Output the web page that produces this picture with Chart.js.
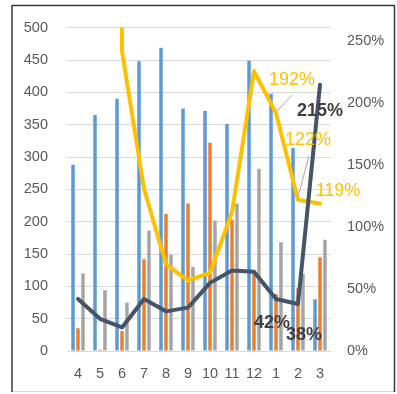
<!DOCTYPE html>
<html>
<head>
<meta charset="utf-8">
<script src="https://cdn.jsdelivr.net/npm/chart.js@4/dist/chart.umd.min.js"></script>
<style>
  html, body { margin: 0; padding: 0; background: #fff; }
  canvas { display: block; }
</style>
</head>
<body>
<canvas id="c" width="397" height="394"></canvas>
<script>
// Months (April to March)
const months = ['4', '5', '6', '7', '8', '9', '10', '11', '12', '1', '2', '3'];

// Bar series (left axis)
const seriesBlue   = [288, 365, 390, 448, 469, 375, 371, 351, 449, 398, 314, 80];
const seriesOrange = [35, 2, 31, 142, 212, 228, 322, 203, 125, 88, 97, 145];
const seriesGray   = [120, 94, 75, 186, 149, 130, 202, 228, 282, 168, 119, 172];

// Ratio lines (right axis, 1 = 100%)
const ratioYellow = [3.43, 47, 2.42, 1.31, 0.70, 0.57, 0.63, 1.12, 2.26, 1.92, 1.22, 1.19];
const ratioDark   = [0.42, 0.26, 0.19, 0.42, 0.32, 0.35, 0.55, 0.65, 0.64, 0.42, 0.38, 2.15];

// Left and right axis ticks
const leftTicks  = [0, 50, 100, 150, 200, 250, 300, 350, 400, 450, 500];
const rightTicks = [0, 0.5, 1, 1.5, 2, 2.5];

const FONT = '"Liberation Sans", Arial, sans-serif';
const TICK_COLOR = '#595959';

const pct = v => Math.round(v * 100) + '%';

// Data labels for the last three months of each line, with placement offsets
const labelSpecs = [
  { ds: 3, i: 9,  dx: 16,  dy: -33, color: '#FFC000', bold: false, leader: [16, -18, 1, -2] },
  { ds: 3, i: 10, dx: 10,  dy: -60, color: '#FFC000', bold: false, leader: [11, -44, 0, -3] },
  { ds: 3, i: 11, dx: 18,  dy: -13, color: '#FFC000', bold: false },
  { ds: 4, i: 9,  dx: -4,  dy: 24,  color: '#404040', bold: true },
  { ds: 4, i: 10, dx: 6,   dy: 31,  color: '#404040', bold: true },
  { ds: 4, i: 11, dx: 0,   dy: 26,  color: '#404040', bold: true }
];

const labelPlugin = {
  id: 'pointLabels',
  afterDatasetsDraw(chart) {
    const ctx = chart.ctx;
    ctx.save();
    labelSpecs.forEach(s => {
      const pt = chart.getDatasetMeta(s.ds).data[s.i];
      const v = chart.data.datasets[s.ds].data[s.i];
      if (s.leader) {
        ctx.strokeStyle = '#A6A6A6';
        ctx.lineWidth = 1;
        ctx.beginPath();
        ctx.moveTo(pt.x + s.leader[0], pt.y + s.leader[1]);
        ctx.lineTo(pt.x + s.leader[2], pt.y + s.leader[3]);
        ctx.stroke();
      }
      ctx.font = (s.bold ? 'bold ' : '') + '18px ' + FONT;
      ctx.fillStyle = s.color;
      ctx.textAlign = 'center';
      ctx.textBaseline = 'middle';
      ctx.fillText(pct(v), pt.x + s.dx, pt.y + s.dy);
    });
    ctx.restore();
  }
};

const framePlugin = {
  id: 'frame',
  beforeDraw(chart) {
    const ctx = chart.ctx;
    ctx.save();
    ctx.fillStyle = '#ffffff';
    ctx.fillRect(0, 0, chart.width, chart.height);
    ctx.restore();
  },
  afterDraw(chart) {
    const ctx = chart.ctx;
    ctx.save();
    ctx.strokeStyle = '#D9D9D9';
    ctx.lineWidth = 1;
    ctx.beginPath();
    ctx.moveTo(12, 391.5);
    ctx.lineTo(394.5, 391.5);
    ctx.stroke();
    ctx.strokeStyle = '#3A3A3A';
    ctx.lineWidth = 1.5;
    ctx.beginPath();
    ctx.moveTo(12, 392);
    ctx.lineTo(12, 5.5);
    ctx.lineTo(394.5, 5.5);
    ctx.lineTo(394.5, 392);
    ctx.stroke();
    ctx.restore();
  }
};

const barStyle = { categoryPercentage: 0.68, barPercentage: 0.7, yAxisID: 'y', order: 3 };

new Chart(document.getElementById('c'), {
  data: {
    labels: months,
    datasets: [
      { type: 'bar', data: seriesBlue,   backgroundColor: '#5B9BD5', ...barStyle },
      { type: 'bar', data: seriesOrange, backgroundColor: '#ED7D31', ...barStyle },
      { type: 'bar', data: seriesGray,   backgroundColor: '#A5A5A5', ...barStyle },
      { type: 'line', data: ratioYellow, yAxisID: 'y1', order: 2, borderColor: '#FFC000',
        borderWidth: 4, pointRadius: 0, tension: 0, clip: 0,
        borderJoinStyle: 'round', borderCapStyle: 'round' },
      { type: 'line', data: ratioDark, yAxisID: 'y1', order: 1, borderColor: '#44546A',
        borderWidth: 4, pointRadius: 0, tension: 0, clip: 0,
        borderJoinStyle: 'round', borderCapStyle: 'round' }
    ]
  },
  options: {
    responsive: false,
    animation: false,
    devicePixelRatio: 1,
    layout: { padding: { left: 12, right: 0, top: 26, bottom: 0 } },
    plugins: { legend: { display: false }, tooltip: { enabled: false } },
    scales: {
      x: {
        grid: { display: false, drawTicks: false },
        border: { display: false },
        ticks: { padding: 14, color: TICK_COLOR, font: { family: FONT, size: 14.5 }, maxRotation: 0 },
        afterFit: s => { s.height = 43; }
      },
      y: {
        position: 'left',
        min: leftTicks[0],
        max: leftTicks[leftTicks.length - 1],
        afterBuildTicks: s => { s.ticks = leftTicks.map(v => ({ value: v })); },
        grid: { color: '#D9D9D9', lineWidth: 1, drawTicks: false },
        border: { display: false },
        ticks: { padding: 19, color: TICK_COLOR, font: { family: FONT, size: 14.5 } },
        afterFit: s => { s.width = 55; }
      },
      y1: {
        position: 'right',
        min: 0,
        max: 2.61,
        afterBuildTicks: s => { s.ticks = rightTicks.map(v => ({ value: v })); },
        grid: { display: false, drawTicks: false },
        border: { display: false },
        ticks: { padding: 16, color: TICK_COLOR, font: { family: FONT, size: 14.5 }, callback: v => pct(v) },
        afterFit: s => { s.width = 66; }
      }
    }
  },
  plugins: [framePlugin, labelPlugin]
});
</script>
</body>
</html>
